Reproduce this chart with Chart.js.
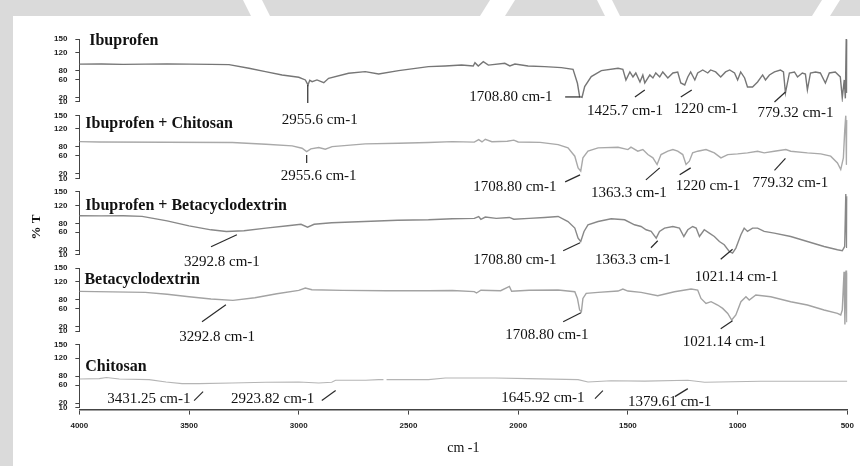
<!DOCTYPE html>
<html><head><meta charset="utf-8">
<script src="https://cdn.jsdelivr.net/npm/chart.js@4"></script>
<style>html,body{margin:0;padding:0;background:#fff}</style>
</head><body>
<canvas id="c" width="860" height="466"></canvas>
<script>
// ---------- DATA ----------
const panelNames = ["Ibuprofen", "Ibuprofen + Chitosan", "Ibuprofen + Betacyclodextrin", "Betacyclodextrin", "Chitosan"];
const xTickValues = [4000, 3500, 3000, 2500, 2000, 1500, 1000, 500];
const yTickValues = [10, 20, 60, 80, 120, 150];

// [wavenumber cm-1, %T]
const ibuprofen = [[4000,94],[3900,94.5],[3800,93.5],[3700,94],[3600,94.5],[3500,94],[3400,93.5],[3318,93],[3227,84.8],[3152,77.4],[3076,70],[3000,64.8],[2970,58.9],[2958,47.8],[2950,58],[2939,55],[2917,58.9],[2886,52.9],[2864,62.6],[2773,73.7],[2697,77.4],[2636,72.2],[2545,79.6],[2409,88.5],[2333,90],[2258,92],[2205,90],[2197,97.4],[2182,90],[2159,99.6],[2136,92],[2061,96],[2038,90],[2015,94.4],[1955,90],[1879,88.5],[1803,86.3],[1750,82.6],[1730,51.5],[1720,21.9],[1709,20.4],[1697,44],[1667,66.3],[1621,79.6],[1545,84.8],[1523,82.7],[1509,58.9],[1491,76.7],[1477,65.6],[1464,74.4],[1445,54.4],[1432,70],[1423,52.2],[1400,70],[1386,63.3],[1373,74.4],[1355,65.6],[1341,76.7],[1318,63.3],[1295,74.4],[1273,76.7],[1259,52.2],[1241,47.8],[1227,65.6],[1214,76.7],[1195,58.9],[1182,74.4],[1159,81.1],[1136,74.4],[1123,81.1],[1100,76.7],[1077,65.6],[1055,76.7],[1036,81.1],[1014,74.4],[1000,58.9],[986,76.7],[968,63.3],[955,43.3],[932,43.3],[909,54.4],[886,70],[873,58.9],[855,70],[832,76.7],[805,81.1],[791,76.7],[782,30],[764,74.4],[741,76.7],[727,65.6],[705,74.4],[691,72],[682,36.7],[668,74.4],[645,76.7],[623,74.4],[600,52.2],[582,74.4],[555,76.7],[532,65.6],[523,18.9],[514,58.9],[509,18],[505,150],[502,30],[500,148]];

const ibuChitosan = [[4000,91.8],[3909,91],[3605,90.4],[3303,89.6],[3150,86],[3030,82.2],[2985,77],[2964,69.6],[2945,75.6],[2909,78.5],[2879,74.8],[2848,80.7],[2697,86.7],[2545,88.2],[2409,89.6],[2300,91.8],[2200,90.5],[2180,96],[2165,91],[2150,97],[2120,91.5],[2050,92.5],[2020,95],[2000,91],[1900,90],[1818,85.1],[1773,77.8],[1742,59.3],[1727,33.3],[1715,26],[1705,55.6],[1682,70.4],[1636,77.8],[1545,79.3],[1500,74],[1486,79.3],[1455,70.4],[1432,74],[1409,62.9],[1386,55.6],[1367,40.7],[1349,62.9],[1318,70.4],[1295,74],[1273,70.4],[1250,62.9],[1235,40.7],[1220,48.1],[1205,66.7],[1182,70.4],[1144,74],[1106,66.7],[1076,55.6],[1045,62.9],[1000,64.4],[955,66.7],[909,70.4],[879,66.7],[833,70.4],[780,74],[758,70.4],[682,66.7],[621,64.4],[576,59.3],[545,44.4],[530,29.6],[518,55.6],[512,115],[507,150],[504,40],[500,140]];

const ibuBetaCD = [[4000,96.7],[3900,96.5],[3800,96.8],[3714,95.5],[3600,85.5],[3500,74.4],[3400,65.5],[3330,61.9],[3250,63.3],[3150,69.3],[3050,74.4],[2990,77.8],[2960,71.5],[2930,77.8],[2850,81.1],[2700,84],[2550,86.7],[2409,87.8],[2300,90],[2200,91],[2180,95],[2170,89],[2150,94],[2100,91],[2040,93],[2020,89],[1950,91],[1880,93],[1818,95.2],[1773,84],[1742,69.3],[1727,47],[1715,39.6],[1700,61.9],[1682,76.7],[1636,84],[1576,90],[1515,87.8],[1470,76.7],[1440,72.9],[1417,65.6],[1394,61.9],[1371,47],[1356,61.9],[1333,69.3],[1295,72.9],[1265,69.3],[1245,50.7],[1227,65.6],[1205,72.9],[1189,69.3],[1174,50.7],[1152,65.6],[1129,58.1],[1106,50.7],[1083,39.6],[1061,32.2],[1038,17.4],[1023,13.7],[1008,24.8],[985,54.4],[970,69.3],[955,61.9],[932,69.3],[909,69.3],[879,61.9],[833,58.1],[758,50.7],[682,39.6],[606,28.5],[545,21.1],[523,18.9],[512,28.5],[507,145],[503,25],[500,140]];

const betaCD = [[4000,98.5],[3700,96.3],[3600,92.2],[3500,86.7],[3400,81.5],[3300,78.5],[3200,84.4],[3100,93.3],[3000,100.7],[2970,106],[2940,102.2],[2800,100.7],[2600,100],[2409,100],[2300,100.5],[2200,98],[2190,94.9],[2170,101],[2080,100],[2040,109.6],[2030,99],[1950,101],[1818,101.5],[1742,97.8],[1730,82.9],[1720,57.1],[1712,53.3],[1705,82.9],[1690,94],[1636,96.3],[1545,99.3],[1523,103.8],[1500,99.3],[1440,96.3],[1364,88.9],[1288,97.8],[1212,103.8],[1182,101.5],[1167,82.9],[1144,71.8],[1121,75.6],[1091,68.2],[1068,60.7],[1045,49.6],[1027,34.9],[1008,46],[985,75.6],[962,86.7],[947,79.3],[917,90.4],[849,86.7],[758,75.6],[682,68.2],[606,57.1],[545,49.6],[530,46],[523,57.1],[515,142],[511,25],[506,145],[502,30],[500,140]];

const chitosan = [[4000,73.7],[3909,74.4],[3877,77],[3818,73.7],[3682,72.2],[3605,67.1],[3532,63.3],[3455,63.3],[3305,64.8],[3150,66.3],[3000,67.1],[2909,64.8],[2850,66.3],[2832,70.7],[2695,70.7],[2636,72.2],[2614,72.2],[2610,null],[2600,72.2],[2409,72.2],[2332,76],[2105,76],[1955,74.4],[1727,72.2],[1682,67.1],[1577,69.6],[1423,68.8],[1227,70.7],[1150,66.3],[895,68.5],[514,68.5],[500,68.5]];

// peak annotations: panel index, label
const peakPanels = [0,0,0,0,0, 1,1,1,1,1, 2,2,2,2, 3,3,3, 4,4,4,4];
const peakLabels = ["2955.6 cm-1","1708.80 cm-1","1425.7 cm-1","1220 cm-1","779.32 cm-1",
  "2955.6 cm-1","1708.80 cm-1","1363.3 cm-1","1220 cm-1","779.32 cm-1",
  "3292.8 cm-1","1708.80 cm-1","1363.3 cm-1","1021.14 cm-1",
  "3292.8 cm-1","1708.80 cm-1","1021.14 cm-1",
  "3431.25 cm-1","2923.82 cm-1","1645.92 cm-1","1379.61 cm-1"];

// ---------- LAYOUT (annotation placement in axis units) ----------
const peakTextPos = [[3077,-38.9],[2223,12.2],[1686,-18.9],[1291,-14.4],[909,-23.3],
  [3082,6.7],[2205,-17.8],[1668,-31.1],[1282,-15.6],[932,-8.9],
  [3523,-14.4],[2205,-10],[1650,-10],[1195,-47.8],
  [3545,-11.1],[2059,-6.7],[1250,-22.2],
  [3873,21.1],[3309,21.1],[2077,23.3],[1500,14.4]];
const peakLeaders = [[2959,47.8,2959,7.8],[1786,21.1,1718,21.1],[1468,21.1,1423,36.7],[1259,21.1,1209,36.7],[832,10,782,32.2],
  [2964,62.2,2964,44.4],[1786,2.2,1718,17.8],[1418,6.7,1355,33.3],[1264,17.8,1214,33.3],[832,27.8,782,54.4],
  [3400,27.8,3282,54.4],[1795,18.9,1718,36.7],[1395,25.6,1364,41.1],[1077,0.2,1023,22.4],
  [3441,31.1,3332,68.9],[1795,31.1,1714,51.1],[1077,15.6,1023,33.3],
  [3477,25.6,3436,45.6],[2895,25.6,2832,47.8],[1650,30,1614,47.8],[1286,34.4,1227,52.2]];
const titlePos = [[3955,136.7],[3973,122.2],[3973,110],[3977,115.6],[3973,92.2]];

const panelAxes = ['y1','y2','y3','y4','y5'];
const series = [ibuprofen, ibuChitosan, ibuBetaCD, betaCD, chitosan];
const lineColors = ['#767676','#a9a9a9','#888888','#a3a3a3','#b5b5b5'];

const serif = '"Liberation Serif", "Times New Roman", serif';
const sans = '"Liberation Sans", Arial, sans-serif';

const datasets = series.map((s, i) => ({
  label: panelNames[i],
  data: s.map(([x, y]) => ({x, y})),
  yAxisID: panelAxes[i],
  borderColor: lineColors[i],
  borderWidth: i === 4 ? 1.1 : 1.4,
  pointRadius: 0,
  tension: 0,
  fill: false,
  spanGaps: false
}));

function panelScale(weight) {
  return {
    type: 'linear', position: 'left', stack: 'panels', stackWeight: 63, weight,
    min: 10, max: 150,
    afterBuildTicks: s => { s.ticks = yTickValues.map(v => ({value: v})); },
    ticks: { font: {family: sans, size: 8, weight: 'bold'}, color: '#222', padding: 8, autoSkip: false, callback: v => String(v) },
    grid: { drawOnChartArea: false, tickLength: 4, color: '#444' },
    border: { color: '#444', width: 1 }
  };
}
function gapScale(weight, sw) {
  return {
    type: 'linear', position: 'left', stack: 'panels', stackWeight: sw, weight,
    min: 0, max: 1,
    ticks: { display: false }, grid: { display: false, drawTicks: false }, border: { display: false }
  };
}

const watermarkCuts = [[[243,0],[262,0],[270,16],[251,16]],[[490,0],[515,0],[505,16],[480,16]],[[597,0],[612,0],[620,16],[605,16]],[[822,0],[840,0],[830,16],[812,16]]];

const framePlugin = {
  id: 'frame',
  beforeDraw(chart) {
    const c = chart.ctx;
    c.save();
    c.fillStyle = '#ffffff'; c.fillRect(0, 0, chart.width, chart.height);
    c.fillStyle = '#dadada';
    c.fillRect(0, 0, chart.width, 16);
    c.fillRect(0, 0, 13, chart.height);
    c.fillStyle = '#ffffff';
    watermarkCuts.forEach(p => { c.beginPath(); c.moveTo(p[0][0], p[0][1]); for (let k = 1; k < p.length; k++) c.lineTo(p[k][0], p[k][1]); c.closePath(); c.fill(); });
    c.restore();
  }
};

const labelPlugin = {
  id: 'labels',
  afterDraw(chart) {
    const c = chart.ctx, xs = chart.scales.x;
    c.save();
    c.fillStyle = '#111';
    c.textBaseline = 'alphabetic'; c.textAlign = 'left';
    c.font = 'bold 16px ' + serif;
    panelNames.forEach((n, i) => {
      const ys = chart.scales[panelAxes[i]];
      c.fillText(n, xs.getPixelForValue(titlePos[i][0]), ys.getPixelForValue(titlePos[i][1]));
    });
    c.strokeStyle = '#2a2a2a'; c.lineWidth = 1.2;
    peakLabels.forEach((t, i) => {
      const ys = chart.scales[panelAxes[peakPanels[i]]];
      const L = peakLeaders[i];
      c.beginPath();
      c.moveTo(xs.getPixelForValue(L[0]), ys.getPixelForValue(L[1]));
      c.lineTo(xs.getPixelForValue(L[2]), ys.getPixelForValue(L[3]));
      c.stroke();
    });
    c.font = '15px ' + serif;
    peakLabels.forEach((t, i) => {
      const ys = chart.scales[panelAxes[peakPanels[i]]];
      const P = peakTextPos[i];
      c.fillText(t, xs.getPixelForValue(P[0]), ys.getPixelForValue(P[1]));
    });
    c.font = 'bold 13px ' + serif;
    c.translate(37, 227); c.rotate(-Math.PI / 2);
    c.textAlign = 'center'; c.textBaseline = 'middle';
    c.fillText('% T', 0, 0);
    c.restore();
  }
};

new Chart(document.getElementById('c'), {
  type: 'line',
  data: { datasets },
  plugins: [framePlugin, labelPlugin],
  options: {
    responsive: false, animation: false, devicePixelRatio: 1,
    layout: { padding: { top: 39, left: 46, right: 5, bottom: 7 } },
    plugins: { legend: { display: false }, tooltip: { enabled: false } },
    scales: {
      x: {
        type: 'linear', position: 'bottom', reverse: true, min: 500, max: 4000,
        afterBuildTicks: s => { s.ticks = xTickValues.map(v => ({value: v})); },
        ticks: { font: {family: sans, size: 8, weight: 'bold'}, color: '#222', padding: 6, maxRotation: 0, autoSkip: false, callback: v => String(v) },
        grid: { drawOnChartArea: false, tickLength: 5, color: '#444' },
        border: { color: '#444', width: 1.6 },
        title: { display: true, text: 'cm -1', font: {family: serif, size: 14}, color: '#111', padding: {top: 4, bottom: 2} }
      },
      y1: panelScale(10), g1: gapScale(9, 13.5),
      y2: panelScale(8), g2: gapScale(7, 13.5),
      y3: panelScale(6), g3: gapScale(5, 13.5),
      y4: panelScale(4), g4: gapScale(3, 13.5),
      y5: panelScale(2), g5: gapScale(1, 2)
    }
  }
});
</script>
</body></html>
